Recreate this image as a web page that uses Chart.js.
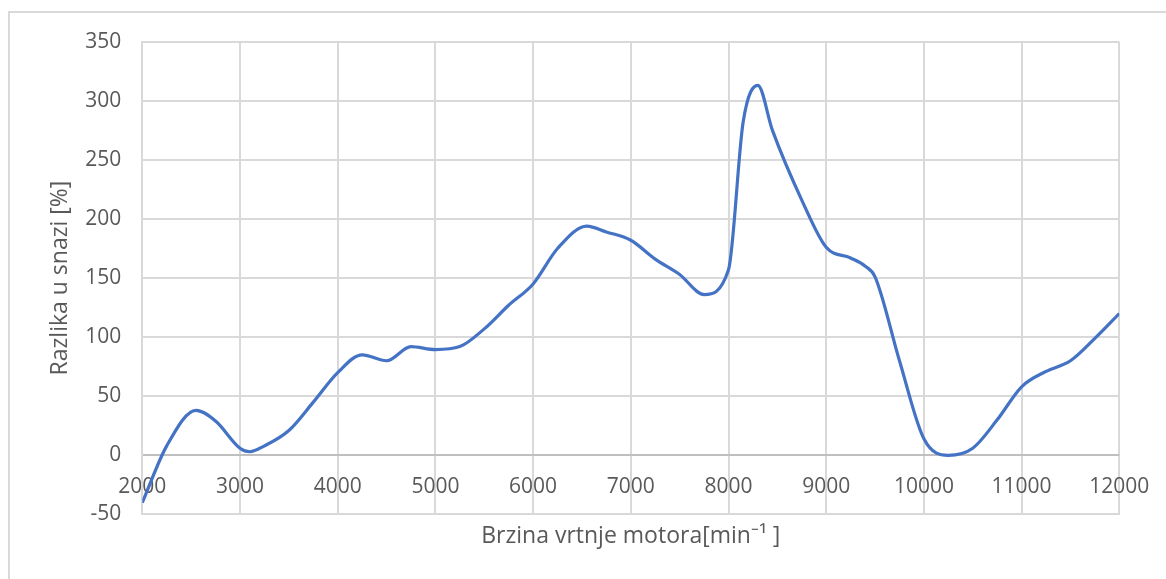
<!DOCTYPE html>
<html>
<head>
<meta charset="utf-8">
<script src="https://cdn.jsdelivr.net/npm/chart.js@4/dist/chart.umd.min.js"></script>
<style>
  html, body { margin: 0; padding: 0; background: #ffffff; overflow: hidden; }
  #frame {
    position: absolute; left: 8px; top: 11px; width: 1300px; height: 700px;
    border: 2px solid #d9d9d9; box-sizing: border-box;
  }
  #wrap { position: absolute; left: 0; top: 0; width: 1166px; height: 579px; }
</style>
</head>
<body>
<div id="frame"></div>
<div id="wrap"><canvas id="powerDiff"></canvas></div>
<script>
// Engine speed [min^-1] and power difference [%]
const rpm = [
  2000, 2250, 2550, 2750, 3000, 3100, 3250, 3500, 3750, 4000,
  4250, 4500, 4750, 5000, 5250, 5500, 5750, 6000, 6250, 6550,
  6750, 7000, 7250, 7500, 7750, 8000, 8150, 8300, 8450, 8750,
  9000, 9250, 9400, 9500, 9750, 10000, 10250, 10500, 10750, 11000,
  11250, 11500, 11750, 12000
];
const powerDiff = [
  -40, 8, 38, 29, 6, 3, 8, 21, 45, 70,
  85, 80, 92, 89.5, 92, 107, 127, 145, 175, 194,
  189, 182, 166, 153, 136, 157, 282, 313, 275, 216,
  176, 167, 160, 151, 80, 14, 0, 6, 30, 58,
  71, 80, 99, 120
];

const xTicks = { min: 2000, max: 12000, step: 1000 };
const yTicks = { min: -50, max: 350, step: 50 };

const textColor = '#595959';
const gridColor = '#d9d9d9';
const fontFamily = "'Open Sans', sans-serif";

const points = rpm.map((r, i) => ({ x: r, y: powerDiff[i] }));

new Chart(document.getElementById('powerDiff'), {
  type: 'line',
  data: {
    datasets: [{
      data: points,
      borderColor: '#4472c4',
      borderWidth: 3.2,
      pointRadius: 0,
      cubicInterpolationMode: 'monotone',
      fill: false
    }]
  },
  options: {
    responsive: true,
    maintainAspectRatio: false,
    animation: false,
    layout: { padding: { top: 41.7, right: 46.7, left: 0, bottom: 0 } },
    plugins: {
      legend: { display: false },
      tooltip: { enabled: false }
    },
    scales: {
      x: {
        type: 'linear',
        min: xTicks.min,
        max: xTicks.max,
        afterFit: (scale) => { scale.height = 64.6; },
        ticks: {
          stepSize: xTicks.step,
          color: textColor,
          font: { family: fontFamily, size: 21 },
          // mirrored so the labels sit just under the zero line, inside the plot
          mirror: true,
          padding: 14.3,
          maxRotation: 0,
          autoSkip: false,
          callback: (v) => String(v)
        },
        grid: { color: gridColor, lineWidth: 2, drawTicks: false },
        border: { color: gridColor, width: 2 },
        title: {
          display: true,
          text: 'Brzina vrtnje motora[min⁻¹ ]',
          color: textColor,
          font: { family: fontFamily, size: 23 },
          padding: { top: 0, bottom: 28.5 }
        }
      },
      y: {
        min: yTicks.min,
        max: yTicks.max,
        afterFit: (scale) => { scale.width = 142.3; },
        ticks: {
          stepSize: yTicks.step,
          color: textColor,
          font: { family: fontFamily, size: 21 },
          padding: 21
        },
        grid: {
          color: (ctx) => (ctx.tick && ctx.tick.value === 0 ? '#bfbfbf' : gridColor),
          lineWidth: 2,
          drawTicks: false
        },
        border: { color: gridColor, width: 2 },
        title: {
          display: true,
          text: 'Razlika u snazi [%]',
          color: textColor,
          font: { family: fontFamily, size: 23 },
          padding: { top: 46.5, bottom: 0 }
        }
      }
    }
  }
});
</script>
</body>
</html>
